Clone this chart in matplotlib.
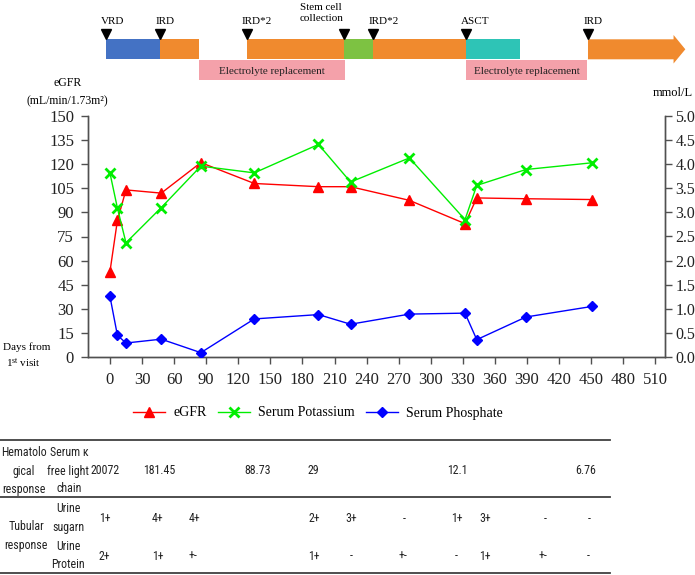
import matplotlib
matplotlib.use("Agg")
import matplotlib.pyplot as plt
import matplotlib.transforms as mtransforms
from matplotlib.patches import Rectangle, Polygon
from matplotlib import font_manager
from matplotlib.lines import Line2D

# ---------------- data ----------------
days = [0, 7, 15, 48, 85, 135, 195, 225, 280, 332, 343, 389, 451]
egfr = [53, 85, 104, 102, 121, 108, 106, 106, 97.5, 83, 99, 98.5, 98]
potassium = [3.82, 3.09, 2.37, 3.10, 3.96, 3.82, 4.41, 3.63, 4.13, 2.85, 3.56, 3.89, 4.03]
phosphate = [1.26, 0.45, 0.29, 0.37, 0.09, 0.79, 0.88, 0.68, 0.89, 0.91, 0.36, 0.83, 1.05]

xticks = list(range(0, 511, 30))
left_ticks = list(range(0, 151, 15))
right_ticks = [0.0, 0.5, 1.0, 1.5, 2.0, 2.5, 3.0, 3.5, 4.0, 4.5, 5.0]

# treatment timeline (days)
phase_start = [-4, 47, 128, 219, 246, 333]
phase_end = [47, 83, 219, 246, 333, 383]
phase_kind = ['VRD', 'IRD', 'IRD', 'SCC', 'IRD', 'ASCT']
last_phase = (447, 538)
event_labels = ['VRD', 'IRD', 'IRD*2', 'Stem cell\ncollection', 'IRD*2', 'ASCT', 'IRD']
event_days = [-4, 47, 128, 219, 246, 333, 447]
electro_start = [83, 333]
electro_end = [220, 446]

# table (column positions in days)
flc_days = [-5, 46, 138, 190, 325, 445]
flc_vals = ['20072', '181.45', '88.73', '29', '12.1', '6.76']
sugar_days = [-5, 45, 79, 191, 226, 275, 324, 351, 407, 448]
sugar_vals = ['1+', '4+', '4+', '2+', '3+', '-', '1+', '3+', '-', '-']
protein_days = [-5, 45, 78, 191, 226, 274, 324, 351, 405, 447]
protein_vals = ['2+', '1+', '+-', '1+', '-', '+-', '-', '1+', '+-', '-']

# ---------------- style ----------------
W, H = 695, 575
plt.rcParams['font.family'] = ['Liberation Serif', 'DejaVu Serif']
plt.rcParams['mathtext.fontset'] = 'custom'
plt.rcParams['mathtext.rm'] = 'Liberation Serif'
plt.rcParams['mathtext.it'] = 'Liberation Serif:italic'

fonts = font_manager.fontManager.ttflist
names = {f.name for f in fonts}
narrow_family, narrow_stretch, tfs = 'Liberation Sans', 'normal', 7.5
for cand, size in [('Liberation Sans Narrow', 9.5), ('Roboto Condensed', 8.6),
                   ('Open Sans Condensed', 8.5), ('DejaVu Sans Condensed', 8)]:
    if cand in names:
        narrow_family, narrow_stretch, tfs = cand, 'normal', size
        break
else:
    if any(f.name == 'DejaVu Sans' and 'ondensed' in str(f.fname) for f in fonts):
        narrow_family, narrow_stretch, tfs = 'DejaVu Sans', 'condensed', 8

colors = {'VRD': '#4472C4', 'IRD': '#F08A2E', 'SCC': '#7DC242', 'ASCT': '#2EC4B6'}
pink = '#F4A1AA'
axcol = '#505050'

def fy(px):
    return 1 - px / H

fig = plt.figure(figsize=(W / 100, H / 100), dpi=100)
ax = fig.add_axes([88 / W, fy(357), (665 - 88) / W, (357 - 116) / H])
ax2 = ax.twinx()

ax.set_xlim(-20.5, 519)
ax.set_ylim(0, 150)
ax2.set_ylim(0, 5)

l1, = ax.plot(days, egfr, color='red', lw=1, marker='^', ms=7, zorder=3)
l2, = ax2.plot(days, potassium, color='#00EE00', lw=1, marker='x', ms=7, mew=2, zorder=3)
l3, = ax2.plot(days, phosphate, color='blue', lw=1, marker='D', ms=5.5, zorder=3)

ax.set_xticks(xticks)
ax.set_yticks(left_ticks)
ax2.set_yticks(right_ticks)
ax2.set_yticklabels([f"{v:.1f}" for v in right_ticks])
for a in (ax, ax2):
    a.spines['top'].set_visible(False)
    for s in a.spines.values():
        s.set_color(axcol)
        s.set_linewidth(1)
    a.tick_params(direction='out', length=5, width=1, color=axcol, labelsize=12, labelcolor='#222222')
ax.tick_params(axis='x', pad=6)
ax.tick_params(axis='y', pad=5)
ax2.tick_params(axis='y', pad=2.5, labelsize=11.5)

fig.text(68 / W, fy(83), 'eGFR', ha='center', va='center', fontsize=8.5)
fig.text(67 / W, fy(101), '(mL/min/1.73m²)', ha='center', va='center', fontsize=8.5)
fig.text(673 / W, fy(93), 'mmol/L', ha='center', va='center', fontsize=9)
fig.text(3 / W, fy(347), 'Days from', ha='left', va='center', fontsize=8)
fig.text(6 / W, fy(363), r'1$^{\mathrm{st}}$ visit', ha='left', va='center', fontsize=8)

# ---------------- timeline ----------------
tr = mtransforms.blended_transform_factory(ax.transData, fig.transFigure)
bar_top, bar_bot = 39.3, 59.3
for s, e, k in zip(phase_start, phase_end, phase_kind):
    ax.add_patch(Rectangle((s, fy(bar_bot)), e - s, fy(bar_top) - fy(bar_bot),
                           facecolor=colors[k], edgecolor='none', transform=tr, clip_on=False))
s, e = last_phase
body_end = e - 11
ax.add_patch(Polygon([(s, fy(bar_top)), (body_end, fy(bar_top)), (body_end, fy(35)),
                      (e, fy(49.3)), (body_end, fy(63.5)), (body_end, fy(bar_bot)), (s, fy(bar_bot))],
                     closed=True, facecolor=colors['IRD'], edgecolor='none', transform=tr, clip_on=False))
for s, e in zip(electro_start, electro_end):
    ax.add_patch(Rectangle((s, fy(80)), e - s, fy(60) - fy(80),
                           facecolor=pink, edgecolor='none', transform=tr, clip_on=False))
    ax.text((s + e) / 2, fy(71), 'Electrolyte replacement', transform=tr, ha='center', va='center',
            fontsize=8, color='#222222', clip_on=False)

ax.plot(event_days, [fy(33.5)] * len(event_days), linestyle='none', marker='v', ms=7.5,
        color='black', transform=tr, clip_on=False)
for lab, d in zip(event_labels, event_days):
    if '\n' in lab:
        ax.text(d - 1, fy(13), lab, transform=tr, ha='right', va='center', multialignment='center',
                fontsize=8, linespacing=1.25, clip_on=False)
    else:
        ax.text(d - 4.5, fy(21), lab, transform=tr, ha='left', va='center', fontsize=8, clip_on=False)

# ---------------- legend ----------------
fig.legend([l1, l2, l3], ['eGFR', 'Serum Potassium', 'Serum Phosphate'], loc='center',
           bbox_to_anchor=(318 / W, fy(413)), ncol=3, frameon=False, fontsize=10,
           handlelength=2.3, handletextpad=0.6, columnspacing=0.8)

# ---------------- table ----------------
for ypx in (440, 497.3, 573.3):
    fig.add_artist(Line2D([0, 610 / W], [fy(ypx), fy(ypx)], color='#404040', lw=1.3))

def tfont():
    return dict(fontsize=tfs, family=[narrow_family, 'DejaVu Sans'], fontstretch=narrow_stretch,
                color='#222222')

def ttext(xpx, ypx, s):
    fig.text(xpx / W, fy(ypx), s, ha='center', va='center', **tfont())

ttext(24, 453, 'Hematolo')
ttext(24, 471, 'gical')
ttext(24, 489, 'response')
ttext(69, 453, 'Serum κ')
ttext(68, 471, 'free light')
ttext(69, 489, 'chain')
ttext(26, 527, 'Tubular')
ttext(26, 546, 'response')
ttext(68, 508, 'Urine')
ttext(68, 527, 'sugarn')
ttext(68, 547, 'Urine')
ttext(68, 565, 'Protein')

def row(dlist, vlist, ypx):
    for d, v in zip(dlist, vlist):
        ax.text(d, fy(ypx), v, transform=tr, ha='center', va='center', clip_on=False, **tfont())

row(flc_days, flc_vals, 471)
row(sugar_days, sugar_vals, 518.5)
row(protein_days, protein_vals, 556)

fig.savefig('out.png', dpi=100)
